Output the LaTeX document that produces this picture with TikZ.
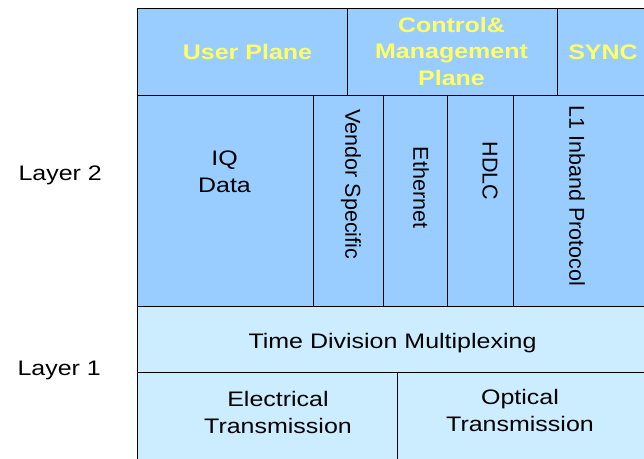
\documentclass[tikz,border=0pt]{standalone}
\usepackage{fontspec}
\setmainfont{Liberation Sans}[FakeStretch=1.19]
\newfontfamily\vertfont{Liberation Sans}
\usetikzlibrary{positioning}
\definecolor{planeblue}{HTML}{99CCFF}
\definecolor{phyblue}{HTML}{CCECFF}
\definecolor{planeyellow}{HTML}{FFFF66}

\begin{document}
\begin{tikzpicture}[
    x=1pt, y=-1pt,
    cell/.style={draw, line width=1.4pt, anchor=north west, inner sep=0pt},
    upper/.style={cell, fill=planeblue},
    lower/.style={cell, fill=phyblue},
    plane/.style={font=\fontsize{21}{26.5}\selectfont\bfseries, text=planeyellow, align=center},
    txt/.style={font=\fontsize{21}{27}\selectfont, align=center},
    vtxt/.style={font=\vertfont\fontsize{21.5}{26}\selectfont, rotate=-90},
    layer/.style={font=\fontsize{21}{26}\selectfont, anchor=base west}
  ]
  \useasboundingbox (0,0) rectangle (644,458);
  \clip (0,0) rectangle (644,458);

  % planes
  \node[upper, minimum width=210pt, minimum height=87pt] (user) at (137,8) {};
  \node[upper, minimum width=210pt, minimum height=87pt] (ctrl) at (347,8) {};
  \node[upper, minimum width=100pt, minimum height=87pt] (sync) at (557,8) {};

  % layer 2
  \node[upper, minimum width=176pt, minimum height=211pt] (iq) at (137,95) {};
  \node[upper, minimum width=70pt, minimum height=211pt] (vendor) at (313,95) {};
  \node[upper, minimum width=64pt, minimum height=211pt] (eth) at (383,95) {};
  \node[upper, minimum width=66pt, minimum height=211pt] (hdlc) at (447,95) {};
  \node[upper, minimum width=144pt, minimum height=211pt] (inband) at (513,95) {};

  % layer 1
  \node[lower, minimum width=520pt, minimum height=66pt] (tdm) at (137,306) {};
  \node[lower, minimum width=260pt, minimum height=100pt] (elec) at (137,372) {};
  \node[lower, minimum width=260pt, minimum height=100pt] (opt) at (397,372) {};

  % texts
  \node[plane, anchor=base] (usertxt) at (247.5,59) {User Plane};
  \node[plane] (ctrltxt) at (451.5,51) {Control\&\\Management\\Plane};
  \node[plane, anchor=base] (synctxt) at (603,59) {SYNC};
  \node[txt] (iqtxt) at (224.5,171.5) {IQ\\Data};
  \node[vtxt] (vendortxt) at (351,184.5) {Vendor Specific};
  \node[vtxt] (ethtxt) at (421,187.5) {Ethernet};
  \node[vtxt] (hdlctxt) at (490,171) {HDLC};
  \node[vtxt] (inbandtxt) at (577,196) {L1 Inband Protocol};
  \node[txt, anchor=base] (tdmtxt) at (392.5,348) {Time Division Multiplexing};
  \node[txt] (electxt) at (278,412) {Electrical\\Transmission};
  \node[txt] (opttxt) at (520,410.5) {Optical\\Transmission};

  \node[layer] (l2) at (15,180) {Layer 2};
  \node[layer] (l1) at (14,375) {Layer 1};
\end{tikzpicture}
\end{document}
